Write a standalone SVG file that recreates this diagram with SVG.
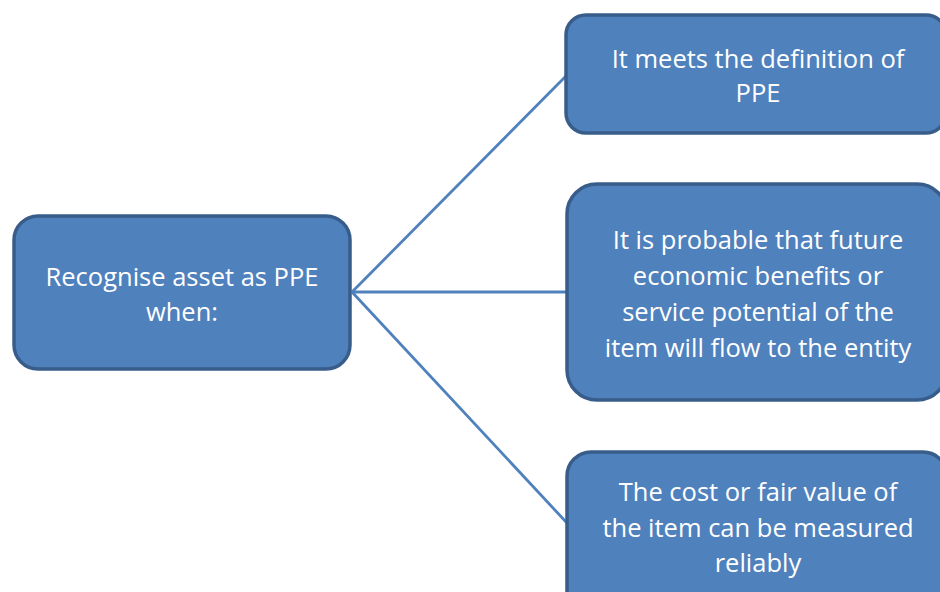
<svg xmlns="http://www.w3.org/2000/svg" width="940" height="592" viewBox="0 0 940 592">
<style>
.box{fill:#4f81bd;stroke:#385d8a;stroke-width:3.5}
.t{font-family:"Open Sans","Liberation Sans",sans-serif;font-size:25.5px;fill:#ffffff;text-anchor:middle}
.c{stroke:#4f81bd;stroke-width:2.8;fill:none}
</style>
<rect width="940" height="592" fill="#ffffff"/>
<g id="connectors">
<line class="c" x1="352" y1="292" x2="567" y2="75"/>
<line class="c" x1="352" y1="292" x2="567" y2="292"/>
<line class="c" x1="352" y1="292" x2="567" y2="523"/>
</g>
<g id="root">
<rect class="box" x="14" y="216" width="336" height="153" rx="24"/>
<text class="t" x="182" y="286">Recognise asset as PPE</text>
<text class="t" x="182" y="321">when:</text>
</g>
<g id="n1">
<rect class="box" x="566" y="15" width="380" height="118" rx="20"/>
<text class="t" x="758" y="68">It meets the definition of</text>
<text class="t" x="758" y="102">PPE</text>
</g>
<g id="n2">
<rect class="box" x="567" y="184" width="380" height="216" rx="30"/>
<text class="t" x="758" y="249">It is probable that future</text>
<text class="t" x="758" y="285">economic benefits or</text>
<text class="t" x="758" y="321">service potential of the</text>
<text class="t" x="758" y="357">item will flow to the entity</text>
</g>
<g id="n3">
<rect class="box" x="567" y="452" width="380" height="170" rx="24"/>
<text class="t" x="758" y="501">The cost or fair value of</text>
<text class="t" x="758" y="537">the item can be measured</text>
<text class="t" x="758" y="572">reliably</text>
</g>
</svg>
